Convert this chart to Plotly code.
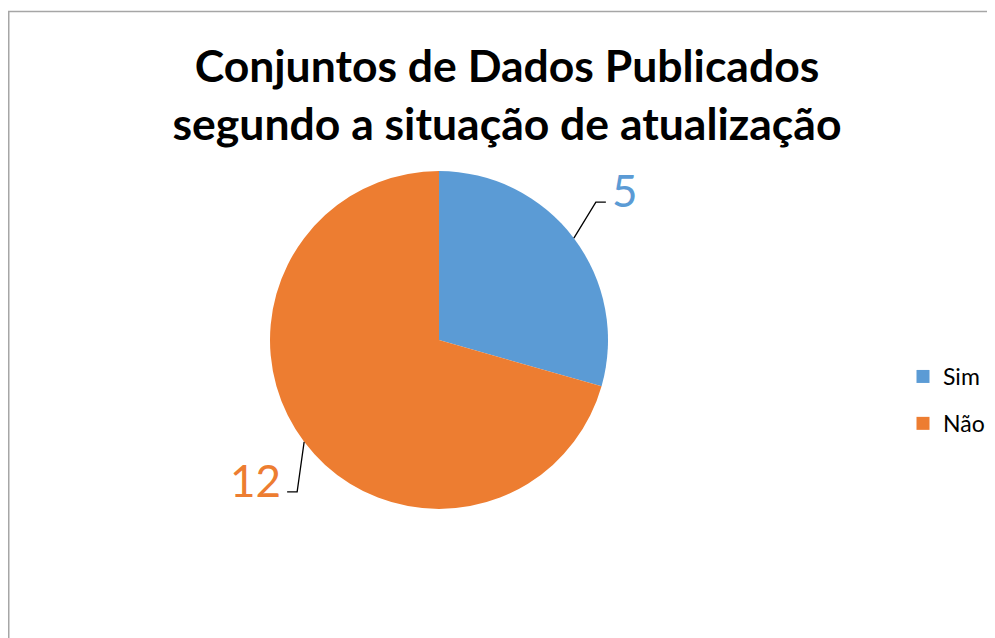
import math
import plotly.graph_objects as go

labels = ["Sim", "Não"]
values = [5, 12]
colors = ["#5B9BD5", "#ED7D31"]
title_lines = ["Conjuntos de Dados Publicados", "segundo a situação de atualização"]

# page body margin offset (browser default 8px)
OFF = 8
W, H = 995 - OFF, 638 - OFF
cx, cy, R = 439 - OFF, 340 - OFF, 169

def px(x):
    return x / W

def py(y):
    return 1 - y / H

fig = go.Figure()
fig.add_trace(go.Pie(
    labels=labels, values=values, sort=False, direction="clockwise", rotation=0,
    marker=dict(colors=colors, line=dict(color="white", width=0)),
    textinfo="none", hoverinfo="label+value", showlegend=False,
    domain=dict(x=[px(cx - R), px(cx + R)], y=[py(cy + R), py(cy - R)]),
))

# legend entries (square swatches)
for i, lab in enumerate(labels):
    fig.add_trace(go.Scatter(
        x=[None], y=[None], mode="markers", name=lab, legendgroup=lab,
        marker=dict(symbol="square", size=13, color=colors[i]),
        hoverinfo="skip",
    ))

# leader lines and value labels computed from slice angles
total = sum(values)
start = 0.0
shapes = []
annotations = []
for i, v in enumerate(values):
    frac = v / total
    mid = (start + frac / 2) * 2 * math.pi
    start += frac
    ex = cx + R * math.sin(mid)
    ey = cy - R * math.cos(mid)
    if math.sin(mid) >= 0:
        bx, by = ex + 22, ey - 36
        hx = bx + 10
        tx, ty, anchor = hx + 4, by - 12, "left"
    else:
        bx, by = ex - 7, ey + 50
        hx = bx - 10
        tx, ty, anchor = hx - 4, by - 12, "right"
    shapes.append(dict(type="path", xref="paper", yref="paper",
                       path=f"M {px(ex)} {py(ey)} L {px(bx)} {py(by)} L {px(hx)} {py(by)}",
                       line=dict(color="black", width=1.3)))
    annotations.append(dict(x=px(tx), y=py(ty), xref="paper", yref="paper",
                            text=str(v), showarrow=False, xanchor=anchor, yanchor="middle",
                            font=dict(family="Lato", size=44, color=colors[i])))

# chart border
shapes.append(dict(type="rect", xref="paper", yref="paper",
                   x0=px(0.75), x1=px(1100), y0=py(3.5), y1=py(700),
                   line=dict(color="#A6A6A6", width=1.5)))

fig.update_layout(
    width=W, height=H,
    margin=dict(l=0, r=0, t=0, b=0),
    paper_bgcolor="white", plot_bgcolor="white",
    title=dict(text="<b>" + "<br>".join(title_lines) + "</b>",
               x=px(507 - OFF), xanchor="center", y=py(82 - OFF), yanchor="middle",
               font=dict(family="Lato", size=44.5, color="black")),
    showlegend=True,
    xaxis=dict(visible=False), yaxis=dict(visible=False),
    legend=dict(x=px(903 - OFF), y=py(400 - OFF), xanchor="left", yanchor="middle",
                font=dict(family="Lato", size=23, color="black"),
                tracegroupgap=14, bgcolor="rgba(0,0,0,0)"),
    shapes=shapes,
    annotations=annotations,
)

fig.write_html("out.html")
